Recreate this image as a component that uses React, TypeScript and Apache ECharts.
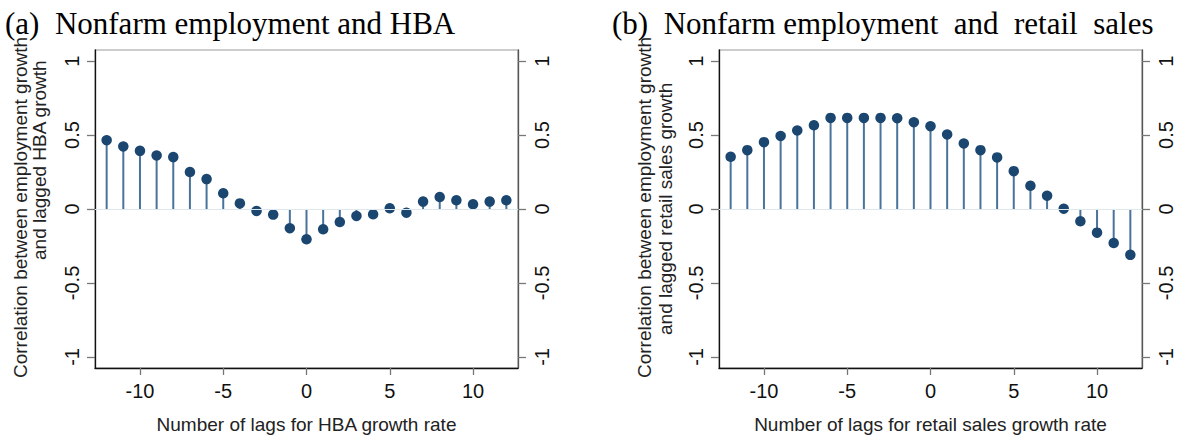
import React, { useEffect, useRef } from "react";
import * as echarts from "echarts";

const lags = [-12, -11, -10, -9, -8, -7, -6, -5, -4, -3, -2, -1, 0, 1, 2, 3, 4, 5, 6, 7, 8, 9, 10, 11, 12];
const hbaCorr = [0.465, 0.423, 0.393, 0.362, 0.351, 0.25, 0.202, 0.106, 0.038, -0.013, -0.038, -0.13, -0.205, -0.137, -0.088, -0.047, -0.036, 0.005, -0.025, 0.05, 0.081, 0.059, 0.032, 0.05, 0.059];
const retailCorr = [0.353, 0.398, 0.452, 0.494, 0.531, 0.566, 0.616, 0.616, 0.616, 0.616, 0.614, 0.587, 0.56, 0.504, 0.443, 0.398, 0.349, 0.256, 0.157, 0.09, 0.002, -0.083, -0.16, -0.23, -0.31];
const xTicks = [-10, -5, 0, 5, 10];
const yTicks = [-1, -0.5, 0, 0.5, 1];

const panelTitles = [
  "(a)\u00a0\u00a0Nonfarm employment and HBA",
  "(b)\u00a0\u00a0Nonfarm employment\u00a0\u00a0and\u00a0\u00a0retail\u00a0\u00a0sales",
];
const xNames = ["Number of lags for HBA growth rate", "Number of lags for retail sales growth rate"];
const yNameLine1 = "Correlation between employment growth";
const yNameLine2 = ["and lagged HBA growth", "and lagged retail sales growth"];

const SANS = "'Liberation Sans', Arial, Helvetica, sans-serif";
const SERIF = "'Liberation Serif', 'Times New Roman', serif";
const MARK = "#1a4670";
const STEM = "#4a739b";

export default function App() {
  const ref = useRef<HTMLDivElement>(null);
  useEffect(() => {
    if (!ref.current) return;
    const chart = echarts.init(ref.current, undefined, { renderer: "svg" });
    const grids = [
      { left: 95, top: 50, width: 423, height: 318 },
      { left: 719, top: 50, width: 423, height: 318 },
    ];
    const xAxis: any[] = [];
    const yAxis: any[] = [];
    const series: any[] = [];
    const datasets = [hbaCorr, retailCorr];
    grids.forEach((g, i) => {
      xAxis.push({
        type: "value",
        gridIndex: i,
        min: -12.7,
        max: 12.7,
        name: xNames[i],
        nameLocation: "middle",
        nameGap: 47,
        nameTextStyle: { fontFamily: SANS, fontSize: 19, color: "#222" },
        axisLine: { show: true, onZero: false, lineStyle: { color: "#111", width: 1.3 } },
        axisTick: { show: true, length: 7, customValues: xTicks, lineStyle: { color: "#777", width: 1.3 } },
        axisLabel: { customValues: xTicks, fontFamily: SANS, fontSize: 20, color: "#111", margin: 13 },
        splitLine: { show: false },
      });
      ["left", "right"].forEach((pos) => {
        yAxis.push({
          type: "value",
          gridIndex: i,
          position: pos,
          min: -1.075,
          max: 1.075,
          axisLine: { show: true, onZero: false, lineStyle: { color: pos === "left" ? "#111" : "#555", width: 1.3 } },
          axisTick: { show: true, length: 8, customValues: yTicks, lineStyle: { color: "#777", width: 1.3 } },
          axisLabel: {
            customValues: yTicks,
            rotate: 90,
            fontFamily: SANS,
            fontSize: 20,
            color: "#111",
            margin: pos === "left" ? 13 : 14,
          },
          splitLine: { show: false },
        });
      });
      const pts = lags.map((l, k) => [l, datasets[i][k]]);
      series.push({
        type: "line",
        xAxisIndex: i,
        yAxisIndex: i * 2,
        data: [],
        z: 1,
        silent: true,
        markLine: {
          silent: true,
          symbol: "none",
          label: { show: false },
          lineStyle: { color: "#dde7ee", width: 1.2, type: "solid" },
          data: [{ yAxis: 0 }],
        },
      });
      series.push({
        type: "custom",
        xAxisIndex: i,
        yAxisIndex: i * 2,
        z: 2,
        data: pts,
        renderItem: (params: any, api: any) => {
          const x = api.value(0);
          const y = api.value(1);
          const p0 = api.coord([x, 0]);
          const p1 = api.coord([x, y]);
          return {
            type: "line",
            shape: { x1: p0[0], y1: p0[1], x2: p1[0], y2: p1[1] },
            style: { stroke: STEM, lineWidth: 2 },
          };
        },
      });
      series.push({
        type: "scatter",
        xAxisIndex: i,
        yAxisIndex: i * 2,
        z: 3,
        symbol: "circle",
        symbolSize: 10.5,
        itemStyle: { color: MARK, opacity: 1 },
        data: pts,
      });
    });

    const graphic: any[] = [
      {
        type: "text",
        x: 5,
        y: 23,
        style: { text: panelTitles[0], font: `31px ${SERIF}`, fill: "#000", textAlign: "left", textVerticalAlign: "middle" },
      },
      {
        type: "text",
        x: 612,
        y: 23,
        style: { text: panelTitles[1], font: `31px ${SERIF}`, fill: "#000", textAlign: "left", textVerticalAlign: "middle" },
      },
    ];
    const ytPos = [
      { x1: 20, y1: 378, x2: 39, y2: 260 },
      { x1: 644, y1: 378, x2: 665, y2: 335 },
    ];
    ytPos.forEach((p, i) => {
      graphic.push({
        type: "text",
        x: p.x1,
        y: p.y1,
        rotation: Math.PI / 2,
        style: { text: yNameLine1, font: `19px ${SANS}`, fill: "#222", textAlign: "left", textVerticalAlign: "middle" },
      });
      graphic.push({
        type: "text",
        x: p.x2,
        y: p.y2,
        rotation: Math.PI / 2,
        style: { text: yNameLine2[i], font: `19px ${SANS}`, fill: "#222", textAlign: "left", textVerticalAlign: "middle" },
      });
    });

    chart.setOption({
      animation: false,
      backgroundColor: "#fff",
      grid: grids.map((g) => ({ ...g, show: true, borderColor: "#999", borderWidth: 1.2, backgroundColor: "#fff", containLabel: false })),
      xAxis,
      yAxis,
      series,
      graphic,
    });
    return () => chart.dispose();
  }, []);
  return <div ref={ref} style={{ position: "fixed", left: 0, top: 0, width: 1178, height: 440 }} />;
}
